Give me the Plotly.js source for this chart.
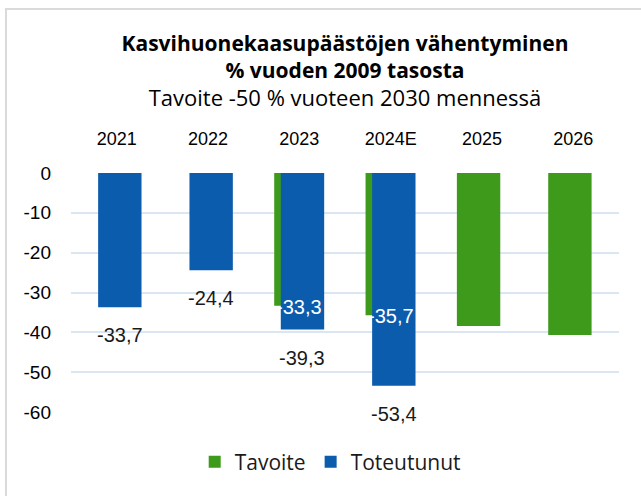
<!DOCTYPE html>
<html>
<head>
<meta charset="utf-8">
<script src="https://cdn.plot.ly/plotly-3.0.1.min.js"></script>
<style>
  html, body { margin: 0; padding: 0; background: #ffffff; }
  #wrap { position: relative; width: 641px; height: 496px; }
  #chart { width: 641px; height: 496px; }
  #frame { position: absolute; left: 5px; top: 8px; right: 0; bottom: 0;
           border-top: 2px solid #dadada; border-left: 2px solid #dadada; pointer-events: none; }
</style>
</head>
<body>
<div id="wrap"><div id="chart"></div><div id="frame"></div></div>
<script>
// ---- data ----
var years = ['2021', '2022', '2023', '2024E', '2025', '2026'];
var tavoite = [null, null, -33.3, -35.7, -38.4, -40.7];
var toteutunut = [-33.7, -24.4, -39.3, -53.4, null, null];
var tavoiteLabelShown = [false, false, true, true, false, false];
var yTicks = [0, -10, -20, -30, -40, -50, -60];

function fmt(v) { return v.toFixed(1).replace('.', ','); }

var annotations = [];
years.forEach(function (yr, i) {
  if (toteutunut[i] !== null) {
    annotations.push({
      x: i, y: toteutunut[i], xref: 'x', yref: 'y',
      text: fmt(toteutunut[i]), showarrow: false,
      xshift: 3, yshift: -28, yanchor: 'middle',
      font: { family: 'Liberation Sans, Arial, sans-serif', size: 20, color: '#1a1a1a' }
    });
  }
  if (tavoite[i] !== null && tavoiteLabelShown[i]) {
    annotations.push({
      x: i, y: tavoite[i], xref: 'x', yref: 'y',
      text: fmt(tavoite[i]), showarrow: false,
      xshift: 0, yshift: -1, yanchor: 'middle',
      font: { family: 'Liberation Sans, Arial, sans-serif', size: 20, color: '#ffffff' }
    });
  }
});

var traces = [
  {
    type: 'bar', name: 'Tavoite', x: years, y: tavoite,
    width: 0.475, offset: -0.275,
    marker: { color: '#3d9a1b' }, hoverinfo: 'skip'
  },
  {
    type: 'bar', name: 'Toteutunut', x: years, y: toteutunut,
    width: 0.475, offset: -0.203,
    marker: { color: '#0b5cad' }, hoverinfo: 'skip'
  }
];

var layout = {
  width: 641, height: 496,
  margin: { l: 71, r: 22, t: 173, b: 84 },
  paper_bgcolor: '#ffffff', plot_bgcolor: '#ffffff',
  barmode: 'overlay',
  separators: ', ',
  showlegend: true,
  title: {
    text: '<b>Kasvihuonekaasupäästöjen vähentyminen<br>% vuoden 2009 tasosta</b><br><span style="font-size:22px">Tavoite -50 % vuoteen 2030 mennessä</span>',
    font: { family: 'Open Sans, sans-serif', size: 21, color: '#000000' },
    x: 0.5, xanchor: 'center', xref: 'paper',
    y: 0.897, yanchor: 'top', yref: 'container'
  },
  xaxis: {
    type: 'category', categoryorder: 'array', categoryarray: years,
    side: 'top', showgrid: false, showline: false, zeroline: false,
    ticks: '', ticklabelstandoff: 23,
    tickfont: { family: 'Liberation Sans, Arial, sans-serif', size: 18, color: '#000000' },
    range: [-0.5, 5.5]
  },
  yaxis: {
    range: [-60, 0], tickvals: yTicks, ticktext: yTicks.map(String),
    showgrid: true, gridcolor: '#dbe6f3', gridwidth: 2,
    zeroline: false, showline: false, ticks: '',
    ticklabelstandoff: 19,
    tickfont: { family: 'Liberation Sans, Arial, sans-serif', size: 19, color: '#000000' }
  },
  legend: {
    orientation: 'h', x: 0.473, xanchor: 'center', y: -0.21, yanchor: 'middle',
    font: { family: 'Open Sans, sans-serif', size: 21, color: '#1a1a1a' },
    itemwidth: 30, traceorder: 'normal'
  },
  annotations: annotations
};

Plotly.newPlot('chart', traces, layout, { displayModeBar: false, staticPlot: true });
</script>
</body>
</html>
